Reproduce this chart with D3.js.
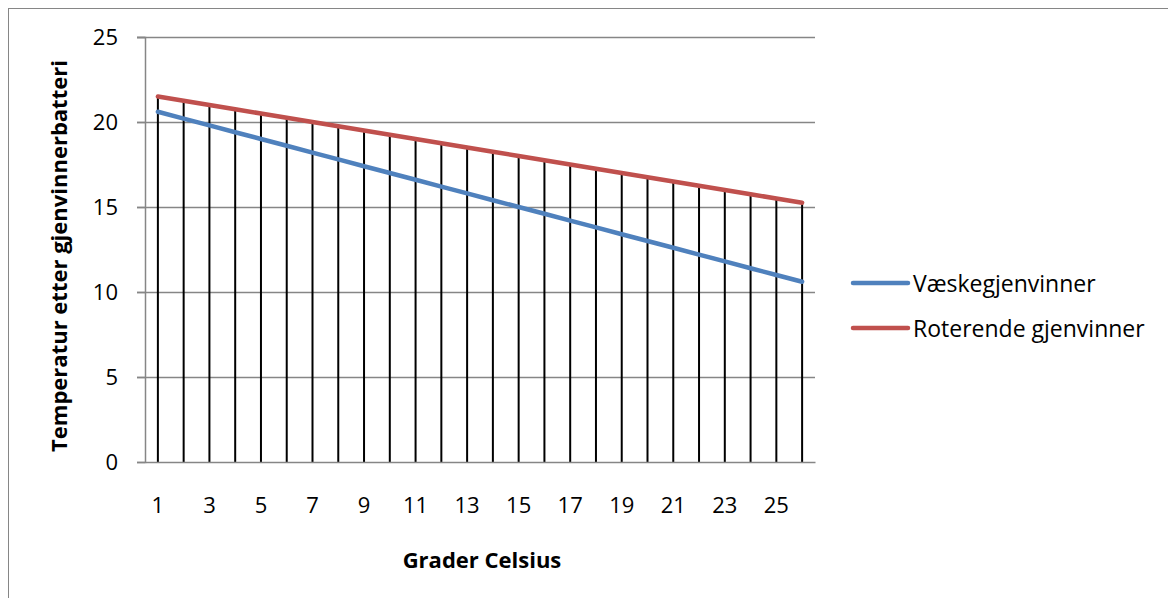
<!DOCTYPE html>
<html>
<head>
<meta charset="utf-8">
<script src="https://cdn.jsdelivr.net/npm/d3@7"></script>
<style>
  body { margin: 0; background: #fff; }
  #canvas { width: 1168px; height: 598px; }
  text { font-family: "Open Sans", "Noto Sans", sans-serif; fill: #000; }
</style>
</head>
<body>
<div id="canvas"></div>
<script>
const categories = d3.range(1, 27).map(String);
const yTicks = [0, 5, 10, 15, 20, 25];
const vaeske = [20.6, 20.2, 19.8, 19.4, 19.0, 18.6, 18.2, 17.8, 17.4, 17.0, 16.6, 16.2, 15.8,
                15.4, 15.0, 14.6, 14.2, 13.8, 13.4, 13.0, 12.6, 12.2, 11.8, 11.4, 11.0, 10.6];
const roterende = [21.5, 21.25, 21.0, 20.75, 20.5, 20.25, 20.0, 19.75, 19.5, 19.25, 19.0, 18.75, 18.5,
                   18.25, 18.0, 17.75, 17.5, 17.25, 17.0, 16.75, 16.5, 16.25, 16.0, 15.75, 15.5, 15.25];
const series = [
  {name: "Væskegjenvinner", values: vaeske, color: "#4F81BD"},
  {name: "Roterende gjenvinner", values: roterende, color: "#C0504D"}
];

const w = 1168, h = 598;
const plotLeft = 145, plotRight = 815, plotTop = 37, plotBottom = 462;

let svg = d3.select("#canvas").append("svg")
    .attr("width", w).attr("height", h);

// outer chart border (cropped at right and bottom)
svg.append("rect")
    .attr("x", 8.5).attr("y", 8.5)
    .attr("width", w).attr("height", h)
    .attr("fill", "none").attr("stroke", "#868686").attr("stroke-width", 1);

let x = d3.scaleBand().domain(categories).range([plotLeft, plotRight]);
let y = d3.scaleLinear().domain([0, 25]).range([plotBottom, plotTop]);

// gridlines
svg.append("g").selectAll("line")
    .data(yTicks.filter(d => d > 0))
    .enter().append("line")
    .attr("x1", plotLeft - 8).attr("x2", plotRight)
    .attr("y1", d => y(d) + 0.5).attr("y2", d => y(d) + 0.5)
    .attr("stroke", "#868686").attr("stroke-width", 1.5);

// y axis
let yAxis = d3.axisLeft(y).tickValues(yTicks).tickSize(8).tickPadding(19);
let gY = svg.append("g").attr("transform", "translate(" + plotLeft + ",0)").call(yAxis);
gY.select(".domain").attr("stroke", "#868686").attr("stroke-width", 1.5);
gY.selectAll(".tick line").attr("stroke", "#868686").attr("stroke-width", 1.5);
gY.selectAll(".tick text").attr("font-size", 22).style("font-family", "Open Sans, sans-serif");

// drop lines
let cx = d => x(d) + x.bandwidth() / 2;
svg.append("g").selectAll("line")
    .data(categories)
    .enter().append("line")
    .attr("x1", cx).attr("x2", cx)
    .attr("y1", (d, i) => y(d3.max(series, s => s.values[i])))
    .attr("y2", plotBottom)
    .attr("stroke", "#000").attr("stroke-width", 2);

// x axis
let xAxis = d3.axisBottom(x)
    .tickValues(categories.filter((d, i) => i % 2 === 0))
    .tickSize(0).tickPadding(35);
let gX = svg.append("g").attr("transform", "translate(0," + plotBottom + ")").call(xAxis);
gX.select(".domain").attr("stroke", "#868686").attr("stroke-width", 1.5);
gX.selectAll(".tick text").attr("font-size", 22).style("font-family", "Open Sans, sans-serif");

// series lines
let line = d3.line().x((d, i) => cx(categories[i])).y(d => y(d));
series.forEach(s => {
  svg.append("path")
      .datum(s.values)
      .attr("d", line)
      .attr("fill", "none")
      .attr("stroke", s.color)
      .attr("stroke-width", 4.5)
      .attr("stroke-linecap", "round");
});

// axis titles
svg.append("text")
    .attr("x", 482).attr("y", 568)
    .attr("text-anchor", "middle")
    .attr("font-size", 22).attr("font-weight", "bold")
    .text("Grader Celsius");
svg.append("text")
    .attr("transform", "translate(67,256) rotate(-90)")
    .attr("text-anchor", "middle")
    .attr("font-size", 22).attr("font-weight", "bold")
    .text("Temperatur etter gjenvinnerbatteri");

// legend
let legend = svg.append("g").selectAll("g")
    .data(series)
    .enter().append("g")
    .attr("transform", (d, i) => "translate(853," + (283 + i * 45) + ")");
legend.append("line")
    .attr("x1", 0).attr("x2", 55)
    .attr("stroke", d => d.color).attr("stroke-width", 4.5)
    .attr("stroke-linecap", "round");
legend.append("text")
    .attr("x", 60).attr("y", 9)
    .attr("font-size", 23)
    .text(d => d.name);
</script>
</body>
</html>
